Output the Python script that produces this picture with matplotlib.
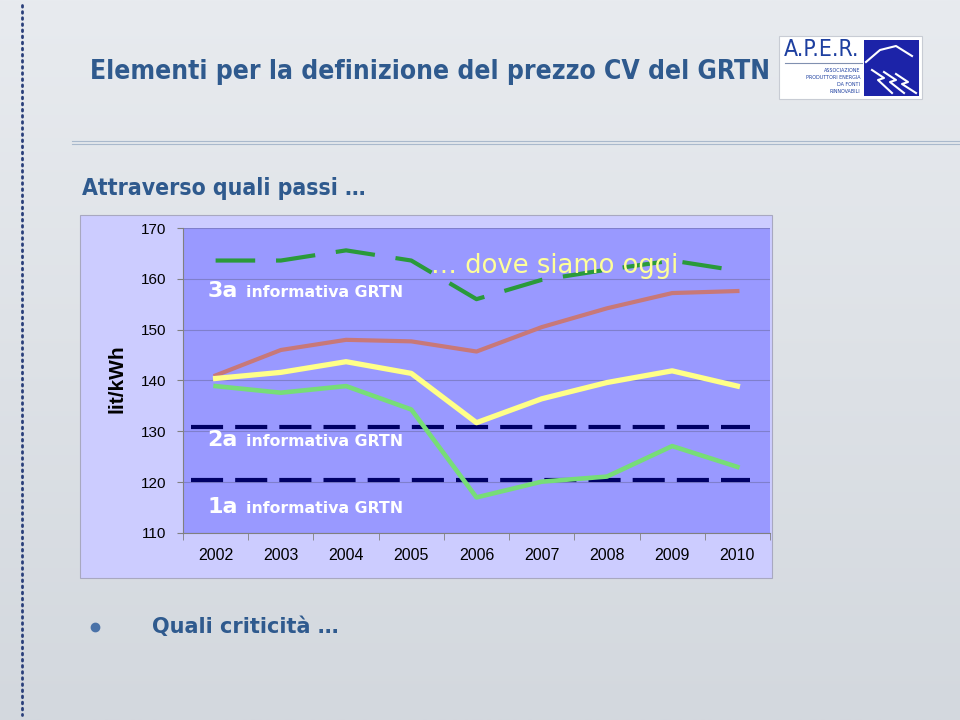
import numpy as np
import matplotlib.pyplot as plt
from matplotlib.patches import Rectangle

years = ['2002', '2003', '2004', '2005', '2006', '2007', '2008', '2009', '2010']
info3 = [163.6, 163.6, 165.6, 163.6, 156.0, 159.8, 161.8, 163.6, 161.6]
rosa = [141.0, 146.0, 148.0, 147.7, 145.7, 150.5, 154.2, 157.2, 157.6]
giallo = [140.4, 141.6, 143.7, 141.4, 131.7, 136.4, 139.6, 141.9, 138.9]
verde = [138.9, 137.6, 138.9, 134.3, 117.0, 120.1, 121.1, 127.1, 123.0]
info2 = 130.8
info1 = 120.5

blu = '#2f5a8e'

fig = plt.figure(figsize=(9.6, 7.2), dpi=100)

# sfondo della slide, coordinate in pixel
bg = fig.add_axes([0, 0, 1, 1])
bg.set_xlim(0, 960)
bg.set_ylim(720, 0)
bg.axis('off')
grad = np.linspace(0, 1, 256).reshape(-1, 1)
bg.imshow(grad, extent=[0, 960, 720, 0], aspect='auto',
          cmap=plt.matplotlib.colors.LinearSegmentedColormap.from_list('g', ['#e8ebef', '#d3d8de']))

bg.plot([22, 22], [5, 715], color='#2a3f7a', lw=2, ls=(0, (0.6, 1.6)), dash_capstyle='round')
bg.plot([72, 960], [141, 141], color='#a9b9cc', lw=0.8)
bg.plot([72, 960], [144, 144], color='#a9b9cc', lw=0.8)

bg.text(90, 72, 'Elementi per la definizione del prezzo CV del GRTN', color=blu,
        fontsize=19, fontweight='bold', va='center', ha='left', fontstretch='condensed')
bg.text(82, 189, 'Attraverso quali passi …', color=blu,
        fontsize=16.5, fontweight='bold', va='center', ha='left', fontstretch='condensed')
bg.plot([95], [627], 'o', color='#4a72a8', ms=6)
bg.text(152, 627, 'Quali criticità …', color=blu,
        fontsize=15, fontweight='bold', va='center', ha='left')

# logo
bg.add_patch(Rectangle((779, 36), 143, 63, facecolor='white', edgecolor='#c8ccd4', lw=0.8))
bg.add_patch(Rectangle((864, 40), 55, 56, facecolor='#1c23a8', edgecolor='none'))
bg.text(784, 50, 'A.P.E.R.', color='#1d3fa0', fontsize=16.5, va='center', ha='left',
        fontstretch='condensed')
bg.plot([785, 862], [63, 63], color='#8090b0', lw=0.8)
for i, s in enumerate(['ASSOCIAZIONE', 'PRODUTTORI ENERGIA', 'DA FONTI', 'RINNOVABILI']):
    bg.text(860, 70 + i * 7.2, s, color='#1d3fa0', fontsize=3.9, va='center', ha='right',
            fontstretch='condensed')
for k in range(3):
    bg.plot([872 + k * 12, 884 + k * 12, 878 + k * 12, 892 + k * 12],
            [70 + k * 2, 78 + k * 2, 80 + k * 2, 93], color='white', lw=1.5)
bg.plot([866, 880, 896, 912], [62, 50, 46, 56], color='white', lw=1.5)

# riquadro del grafico
bg.add_patch(Rectangle((80, 215), 692, 363, facecolor='#ccccff', edgecolor='#a8a8c0', lw=0.8))
bg.text(117, 379, 'lit/kWh', rotation=90, fontsize=15, fontweight='bold',
        family='Liberation Sans', va='center', ha='center')

ax = fig.add_axes([183 / 960, 1 - 533 / 720, 587 / 960, 305 / 720])
ax.set_facecolor('#9999ff')
x = np.arange(len(years))
ax.set_xlim(-0.5, 8.5)
ax.set_ylim(110, 170)
ax.set_yticks(np.arange(110, 171, 10))
ax.yaxis.grid(True, color='#7f7fcc', lw=0.8)
ax.set_axisbelow(True)
for s in ['top', 'right']:
    ax.spines[s].set_visible(False)
for s in ['left', 'bottom']:
    ax.spines[s].set_color('#808080')
ax.set_xticks(x, years)
ax.set_xticks(np.arange(-0.5, 9, 1), minor=True)
ax.tick_params(axis='x', which='major', length=0, pad=11, labelsize=11.5)
ax.tick_params(axis='x', which='minor', length=5, color='#808080')
ax.tick_params(axis='y', length=4, color='#808080', pad=8, labelsize=11)
for lab in ax.get_xticklabels() + ax.get_yticklabels():
    lab.set_family('Liberation Sans')

ax.hlines([info2, info1], -0.37, 8.2, color='#000066', lw=3, linestyles=[(0, (7.7, 2.9))])
ax.plot(x, rosa, color='#c87878', lw=3, solid_joinstyle='round')
ax.plot(x, giallo, color='#ffff88', lw=3.8, solid_joinstyle='round')
ax.plot(x, verde, color='#77dd77', lw=3.3, solid_joinstyle='round')
ax.plot(x, info3, color='#2a9a3a', lw=3, ls=(0, (9.5, 5)))

def etichetta(y, num):
    ax.annotate(num, (-0.13, y), fontsize=16, fontweight='bold', color='white',
                va='center', ha='left')
    ax.annotate('informativa GRTN', (0.46, y - 0.3), fontsize=11.3, fontweight='bold',
                color='white', va='center', ha='left')

etichetta(157.6, '3a')
etichetta(128.3, '2a')
etichetta(115.1, '1a')
ax.text(3.3, 162.6, '… dove siamo oggi', fontsize=18.6, color='#ffff99', va='center', ha='left')

fig.savefig('out.png', dpi=100)
